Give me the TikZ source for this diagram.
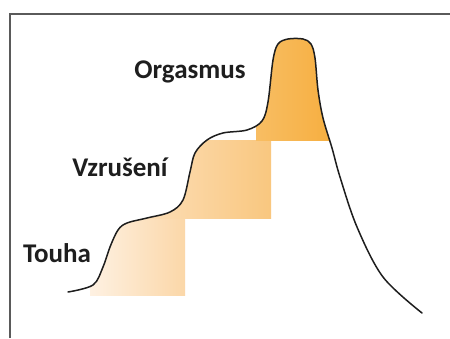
\documentclass[tikz,border=0pt]{standalone}
\usepackage{fontspec}
\setmainfont{Carlito}
\definecolor{frame}{HTML}{5A5A5A}
\definecolor{ink}{HTML}{1E1E1E}
\definecolor{pale}{HTML}{FEF1E2}
\definecolor{light}{HTML}{FBD7A8}
\definecolor{mid}{HTML}{F9C77F}
\definecolor{deep}{HTML}{F6AD3C}
\tikzset{
  lbl/.style={font=\bfseries\fontsize{27}{30}\selectfont, text=ink, inner sep=0pt},
  curveline/.style={draw=ink, line width=1.5pt, line cap=round},
}
\begin{document}
\begin{tikzpicture}[x=1pt,y=-1pt]
\useasboundingbox (0,0) rectangle (450,338);
\fill[white] (0,0) rectangle (450,338);
% frame
\draw[frame, line width=2.5pt] (10,338) -- (10,14) -- (450,14);
\def\curvepts{(68,292) (93,285) (103,267) (110,247) (118,230) (127,223) (147,218) (170,212) (183,200) (190,172) (195,153) (207,140) (223,133) (247,130) (262,121) (268,102) (273,60) (278,44) (288,39) (303,39) (311,44) (315,58) (318,90) (323,118) (332,148) (340,177) (357,227) (383,277) (422,313)}
\begin{scope}
  \clip plot[smooth, tension=0.55] coordinates {\curvepts} -- (422,320) -- (68,320) -- cycle;
  \shade[left color=pale, right color=light] (90,218) rectangle (185,295);
  \shade[left color=light!70!pale, right color=mid] (140,140) rectangle (271,218);
  \shade[left color=deep!80!white, right color=deep] (256,30) rectangle (340,140);
\end{scope}
\draw[curveline] plot[smooth, tension=0.55] coordinates {\curvepts};
\node[lbl] (orgasmus) at (190,72) {Orgasmus};
\node[lbl] (vzruseni) at (120,167) {Vzrušení};
\node[lbl] (touha) at (57,253) {Touha};
\end{tikzpicture}
\end{document}
